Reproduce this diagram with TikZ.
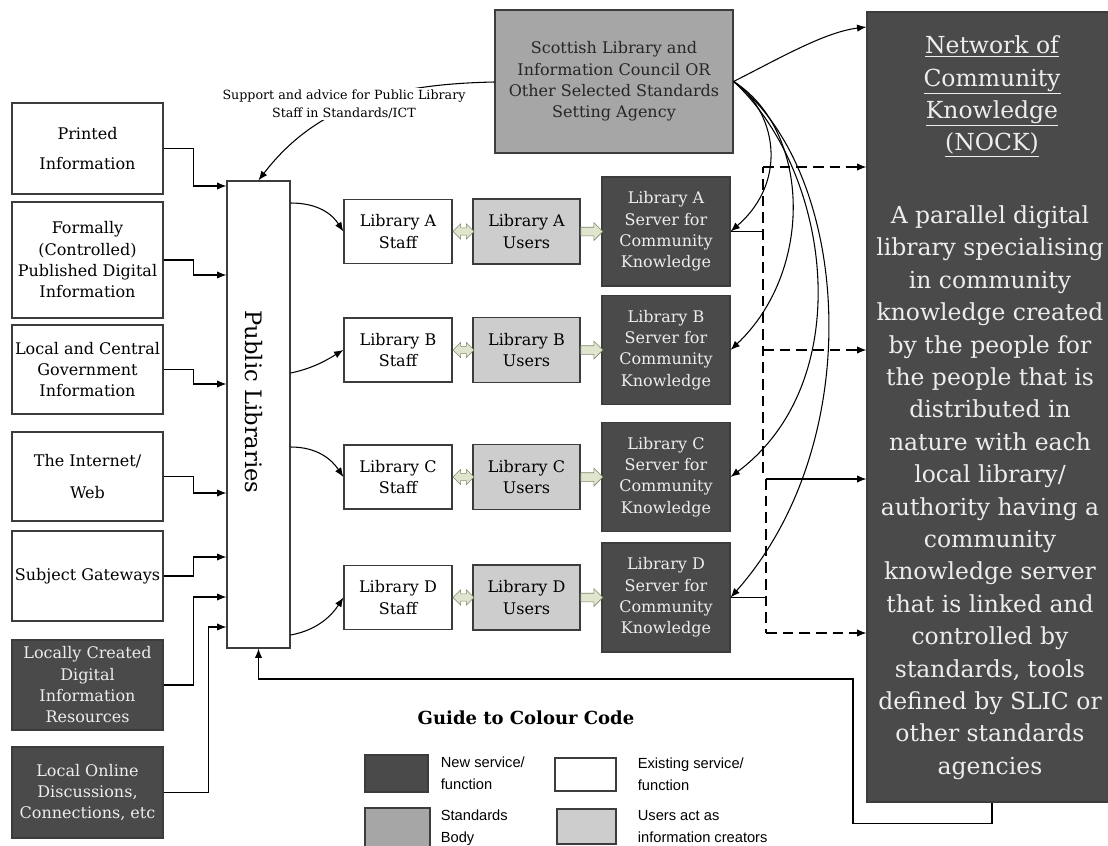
\documentclass[tikz,border=0pt]{standalone}
\usepackage{fontspec}
\setmainfont{DejaVu Serif}
\newfontfamily\keyfont{Liberation Sans}
\usetikzlibrary{positioning,shapes.arrows,arrows.meta}
\definecolor{newgrey}{HTML}{4A4A4A}
\definecolor{stdgrey}{HTML}{A6A6A6}
\definecolor{usrgrey}{HTML}{CDCDCD}
\definecolor{edgegrey}{HTML}{3C3C3C}
\definecolor{newtext}{HTML}{EDEDED}
\definecolor{arrowfill}{HTML}{E0E6CE}
\definecolor{arrowedge}{HTML}{7D8A6C}
\tikzset{
  sz/.style 2 args={minimum width=#1*0.75pt, minimum height=#2*0.75pt},
  box/.style={draw=edgegrey, line width=0.9pt, align=center, inner sep=1pt},
  oldbox/.style={box, fill=white},
  newbox/.style={box, fill=newgrey, text=newtext},
  stdbox/.style={box, fill=stdgrey, text=black!85},
  usrbox/.style={box, fill=usrgrey},
  feed/.style={-{Latex[length=7pt,width=5.5pt]}, line width=0.8pt},
  gap/.style={dash pattern=on 8pt off 4.5pt},
  fat/.style={single arrow, draw=arrowedge, fill=arrowfill, inner sep=0pt, inner ysep=3pt,
    single arrow head extend=3.5pt, single arrow head indent=0pt, minimum height=16.5pt},
  twin/.style={double arrow, draw=arrowedge, fill=arrowfill, inner sep=0pt, inner ysep=2.5pt,
    double arrow head extend=3pt, double arrow head indent=0pt, minimum height=15.75pt},
  nocktext/.style={text=newtext, align=center, font=\fontsize{17.6}{24.3}\selectfont},
  keytext/.style={align=left, inner sep=0pt, font=\keyfont\fontsize{11}{16.5}\selectfont}
}
\begin{document}
\begin{tikzpicture}[x=0.75pt,y=-0.75pt,font=\fontsize{12}{16}\selectfont]
  \useasboundingbox (0,0) rectangle (1108,846);
  \node [oldbox, sz={151}{91}] (prt) at (87.5,148.5) {Printed\\[6pt]Information};
  \node [oldbox, sz={151}{116}] (fpd) at (87.5,260) {Formally\\(Controlled)\\Published Digital\\Information};
  \node [oldbox, sz={151}{89}] (gov) at (87.5,369.5) {Local and Central\\Government\\Information};
  \node [oldbox, sz={151}{89}] (web) at (87.5,476.5) {The Internet/\\[8pt]Web};
  \node [oldbox, sz={151}{90}] (sgw) at (87.5,576) {Subject Gateways};
  \node [newbox, sz={151}{90}] (lcd) at (87.5,685) {Locally Created\\Digital\\Information\\Resources};
  \node [newbox, sz={151}{91}] (lod) at (87.5,792.5) {Local Online\\Discussions,\\Connections, etc};
  \node [oldbox, sz={63}{467}] (pl) at (258.5,414.5) {};
  \node [rotate=-90, font=\fontsize{17}{20}\selectfont] (pltxt) at (254,402) {Public Libraries};
  \node [stdbox, sz={238}{143}] (slic) at (614,81.5) {Scottish Library and\\Information Council OR\\Other Selected Standards\\Setting Agency};
  \node [newbox, sz={250}{790}] (nock) at (992,407) {};
  \node [nocktext] (nockhead) at (992,96.5) {\underline{Network of}\\\underline{Community}\\\underline{Knowledge}\\\underline{(NOCK)}};
  \node [nocktext] (nockbody) at (990,492.5) {A parallel digital\\library specialising\\in community\\knowledge created\\by the people for\\the people that is\\distributed in\\nature with each\\local library/\\authority having a\\community\\knowledge server\\that is linked and\\controlled by\\standards, tools\\defined by SLIC or\\other standards\\agencies};
  \node [oldbox, sz={108}{64}] (stfA) at (398,231.5) {Library A\\Staff};
  \node [oldbox, sz={108}{64}] (stfB) at (398,350) {Library B\\Staff};
  \node [oldbox, sz={108}{64}] (stfC) at (398,477) {Library C\\Staff};
  \node [oldbox, sz={108}{64}] (stfD) at (398,597.5) {Library D\\Staff};
  \node [usrbox, sz={107}{65}] (usrA) at (526.5,231.5) {Library A\\Users};
  \node [usrbox, sz={107}{65}] (usrB) at (526.5,350) {Library B\\Users};
  \node [usrbox, sz={107}{65}] (usrC) at (526.5,477) {Library C\\Users};
  \node [usrbox, sz={107}{65}] (usrD) at (526.5,597.5) {Library D\\Users};
  \node [newbox, sz={128}{109}] (srvA) at (666,231.5) {Library A\\Server for\\Community\\Knowledge};
  \node [newbox, sz={128}{109}] (srvB) at (666,350) {Library B\\Server for\\Community\\Knowledge};
  \node [newbox, sz={128}{109}] (srvC) at (666,477) {Library C\\Server for\\Community\\Knowledge};
  \node [newbox, sz={128}{109}] (srvD) at (666,597.5) {Library D\\Server for\\Community\\Knowledge};
  \node [twin, right=0pt of stfA] (dblA) {};
  \node [twin, right=0pt of stfB] (dblB) {};
  \node [twin, right=0pt of stfC] (dblC) {};
  \node [twin, right=0pt of stfD] (dblD) {};
  \node [fat, right=0pt of usrA] (fatA) {};
  \node [fat, right=0pt of usrB] (fatB) {};
  \node [fat, right=0pt of usrC] (fatC) {};
  \node [fat, right=0pt of usrD] (fatD) {};
  \draw [feed] (prt.east) -- ++(30,0) |- (pl.west |- 0,186);
  \draw [feed] (fpd.east) -- ++(30,0) |- (pl.west |- 0,275);
  \draw [feed] (gov.east) -- ++(30,0) |- (pl.west |- 0,384);
  \draw [feed] (web.east) -- ++(30,0) |- (pl.west |- 0,493);
  \draw [feed] (sgw.east) -- ++(30,0) |- (pl.west |- 0,557);
  \draw [feed] (lcd.east) -- ++(30,0) |- (pl.west |- 0,597);
  \draw [feed] (lod.east) -- ++(45,0) |- (pl.west |- 0,627);
  \draw [feed] (pl.east |- 0,203) .. controls (318,203) and (332,214) .. (stfA.west);
  \draw [feed] (pl.east |- 0,373) .. controls (315,368) and (330,358) .. (stfB.west);
  \draw [feed] (pl.east |- 0,447) .. controls (318,447) and (332,460) .. (stfC.west);
  \draw [feed] (pl.east |- 0,635) .. controls (318,630) and (332,615) .. (stfD.west);
  \draw [feed] (slic.west |- 0,82) .. controls (400,84) and (320,100) .. (pl.north);
  \node [fill=white, inner sep=1pt, align=center, font=\fontsize{9.5}{13.5}\selectfont] (sup) at (344,104) {Support and advice for Public Library\\Staff in Standards/ICT};
  \draw [feed] (slic.east) .. controls (780,58) and (825,32) .. (nock.west |- 0,27);
  \draw [feed] (slic.east) .. controls (775,110) and (790,180) .. (srvA.east);
  \draw [feed] (slic.east) .. controls (810,130) and (815,270) .. (srvB.east);
  \draw [feed] (slic.east) .. controls (830,170) and (860,380) .. (srvC.east);
  \draw [feed] (slic.east) .. controls (850,170) and (870,440) .. (srvD.east);
  \coordinate (jA) at (763,231.5);
  \coordinate (jtop) at (763,167);
  \coordinate (jmid) at (763,350);
  \coordinate (jlow) at (763,473);
  \coordinate (kD) at (766,597.5);
  \coordinate (ktop) at (766,479);
  \coordinate (kbot) at (766,633);
  \coordinate (turn) at (853,679);
  \draw [line width=0.8pt] (srvA.east) -- (jA);
  \draw [line width=0.8pt, gap] (jlow) -- (jtop);
  \draw [feed, gap] (jtop) -- (nock.west |- jtop);
  \draw [feed, gap] (jmid) -- (nock.west |- jmid);
  \draw [line width=0.8pt] (srvD.east) -- (kD);
  \draw [line width=0.8pt, gap] (ktop) -- (kbot);
  \draw [feed] (ktop) -- (nock.west |- ktop);
  \draw [feed, gap] (kbot) -- (nock.west |- kbot);
  \draw [feed] (nock.south) -- ++(0,21) -| (turn) -| (pl.south);
  \node [font=\bfseries\fontsize{13.5}{16}\selectfont] (keyhead) at (526,718) {Guide to Colour Code};
  \node [newbox, sz={63}{37}] (keynew) at (396.5,773.5) {};
  \node [keytext, right=9pt of keynew] (keynewtxt) {New service/\\function};
  \node [oldbox, sz={61}{33}] (keyold) at (585.5,774.5) {};
  \node [keytext, right=15.75pt of keyold] (keyoldtxt) {Existing service/\\function};
  \node [stdbox, sz={65}{40}] (keystd) at (397.5,828) {};
  \node [keytext, right=7.5pt of keystd] (keystdtxt) {Standards\\Body};
  \node [usrbox, sz={59}{35}] (keyusr) at (586.5,826.5) {};
  \node [keytext, right=15.75pt of keyusr] (keyusrtxt) {Users act as\\information creators};
\end{tikzpicture}
\end{document}
